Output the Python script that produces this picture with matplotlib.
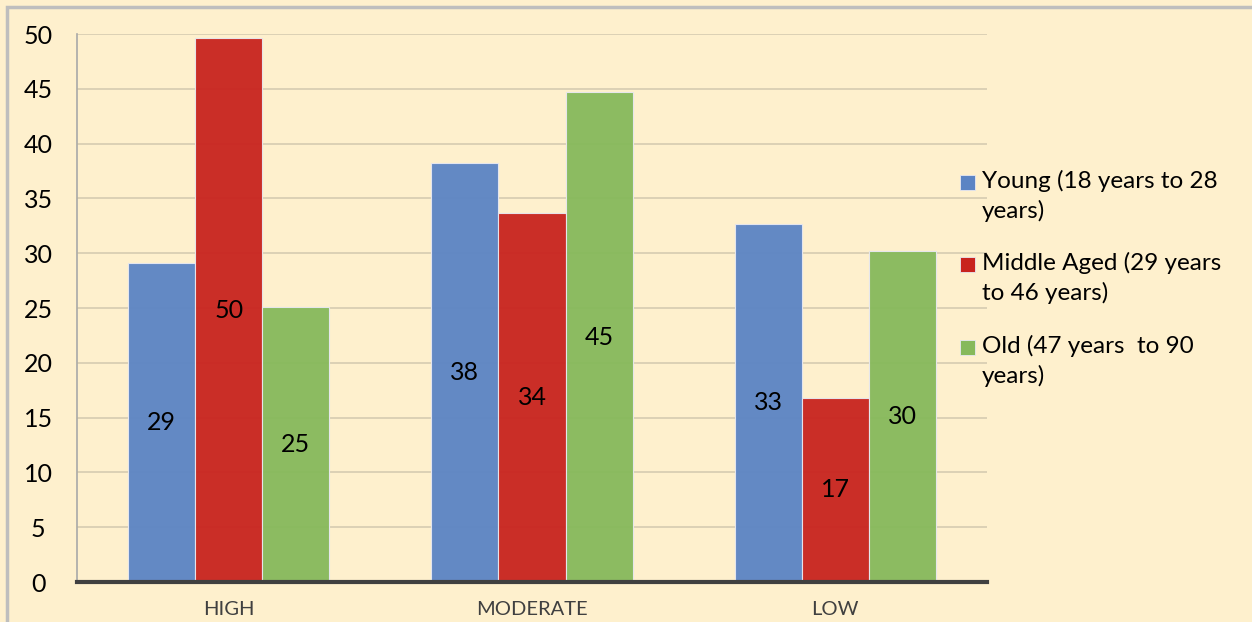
import matplotlib
matplotlib.use("Agg")
import matplotlib.pyplot as plt
import numpy as np
from matplotlib.patches import Rectangle

categories = ["HIGH", "MODERATE", "LOW"]
series_names = ["Young (18 years to 28\nyears)",
                "Middle Aged (29 years\nto 46 years)",
                "Old (47 years  to 90\nyears)"]
young = [29.1, 38.2, 32.7]
middle = [49.6, 33.7, 16.8]
old = [25.1, 44.7, 30.2]
labels_young = ["29", "38", "33"]
labels_middle = ["50", "34", "17"]
labels_old = ["25", "45", "30"]
yticks = [0, 5, 10, 15, 20, 25, 30, 35, 40, 45, 50]

colors = ["#5B84C4", "#C8231E", "#86B95B"]
bg = "#FEF0CD"

plt.rcParams['font.family'] = ['Lato', 'DejaVu Sans']

W, H = 1252, 622
fig = plt.figure(figsize=(W / 100, H / 100), dpi=100, facecolor=bg)
# outer frame
fig.patches.append(Rectangle((7 / W, -0.1), 1.2, (H - 7) / H + 0.1,
                             transform=fig.transFigure, fill=False,
                             edgecolor="#BEBEBE", linewidth=2.5, zorder=0))

ax = fig.add_axes([77 / W, (H - 582) / H, 910 / W, (582 - 34) / H])
ax.set_facecolor(bg)
ax.set_xlim(-0.5, 2.5)
ax.set_ylim(0, 50)

x = np.arange(len(categories))
w = 0.221
allvals = [young, middle, old]
alllabels = [labels_young, labels_middle, labels_old]
for i, (vals, labs) in enumerate(zip(allvals, alllabels)):
    pos = x + (i - 1) * w
    ax.bar(pos, vals, width=w, color=colors[i], alpha=0.95,
           edgecolor="#E8E8F0", linewidth=0.8, zorder=3, label=series_names[i])
    for px, v, l in zip(pos, vals, labs):
        ax.text(px, v / 2, l, ha="center", va="center", fontsize=18,
                color="black", zorder=5)

ax.set_yticks(yticks)
ax.yaxis.grid(True, color="#B5AE9A", linewidth=1.2, zorder=4, alpha=0.55)
ax.set_axisbelow(False)
ax.tick_params(axis="y", length=0, labelsize=18, labelcolor="black")
ax.set_xticks(x)
ax.set_xticklabels(categories)
ax.tick_params(axis="x", length=0, labelsize=14.5, pad=14, labelcolor="#404040")
for lab in ax.get_yticklabels():
    lab.set_horizontalalignment("center")
ax.yaxis.set_tick_params(pad=28)

ax.spines["top"].set_visible(False)
ax.spines["right"].set_visible(False)
ax.spines["left"].set_color("#A8A8A8")
ax.spines["left"].set_linewidth(1.2)
ax.spines["bottom"].set_color("#404040")
ax.spines["bottom"].set_linewidth(3)
ax.spines["bottom"].set_zorder(6)

# legend (drawn manually so the swatch aligns with the first text line)
first_line_y = [182, 264, 347]
for name, col, yy in zip(series_names, colors, first_line_y):
    fig.patches.append(Rectangle((960 / W, 1 - (yy + 7.5) / H), 15 / W, 15 / H,
                                 transform=fig.transFigure, facecolor=col,
                                 edgecolor="#E8E8F0", linewidth=0.6))
    fig.text(982 / W, 1 - (yy - 12) / H, name, ha="left", va="top",
             fontsize=17.5, linespacing=1.45, color="black")

fig.savefig("out.png", dpi=100, facecolor=bg)
